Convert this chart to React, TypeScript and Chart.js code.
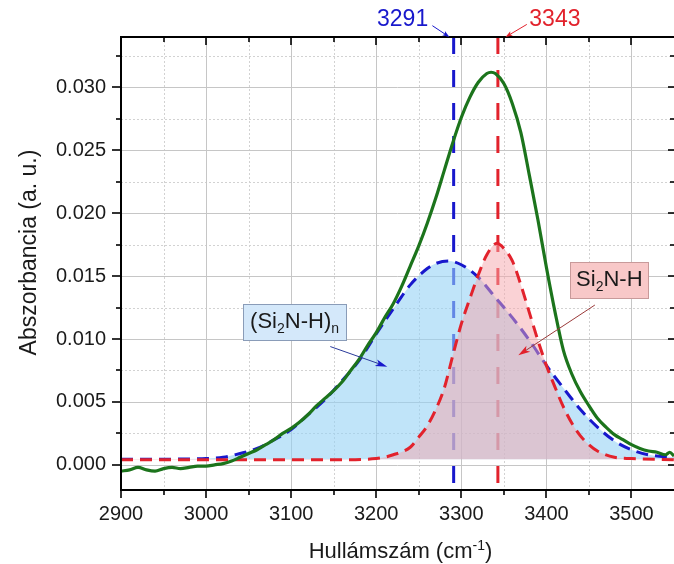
import React, { useEffect, useRef } from "react";
import { Chart, registerables } from "chart.js";

Chart.register(...registerables);

// ---------------- data ----------------
const X_MIN = 2900;
const X_MAX = 3550;
const Y_MIN = -0.002;
const Y_MAX = 0.034;

const X_TICKS = [2900, 3000, 3100, 3200, 3300, 3400, 3500];
const X_MINOR = [2950, 3050, 3150, 3250, 3350, 3450, 3550];
const Y_TICKS = [0, 0.005, 0.01, 0.015, 0.02, 0.025, 0.03];
const Y_MINOR = [0.0025, 0.0075, 0.0125, 0.0175, 0.0225, 0.0275, 0.0325];

const BASELINE = 0.00045;
const PEAK_A = 3291;
const PEAK_B = 3343;

// measured spectrum (green)
const GREEN_X = [2900, 2910, 2920, 2930, 2940, 2950, 2960, 2970, 2980, 2990, 3000, 3010, 3020, 3030, 3040, 3050, 3060, 3070, 3080, 3090, 3100, 3110, 3120, 3130, 3140, 3150, 3160, 3170, 3180, 3190, 3200, 3210, 3220, 3230, 3240, 3250, 3260, 3270, 3280, 3290, 3300, 3310, 3320, 3330, 3335, 3340, 3350, 3360, 3370, 3380, 3390, 3400, 3410, 3420, 3430, 3440, 3450, 3460, 3470, 3480, 3490, 3500, 3510, 3520, 3530, 3540, 3545, 3550];
const GREEN_Y = [-0.0005, -0.0004, -0.0002, -0.0004, -0.0005, -0.0003, -0.0002, -0.0003, -0.0002, -0.0001, -0.0001, 0.0, 0.0001, 0.0003, 0.0006, 0.0009, 0.0012, 0.0016, 0.002, 0.0025, 0.0029, 0.0034, 0.004, 0.0047, 0.0053, 0.0059, 0.0066, 0.0075, 0.0084, 0.0095, 0.0105, 0.0117, 0.0128, 0.0142, 0.0158, 0.0174, 0.0192, 0.0212, 0.0234, 0.0256, 0.0276, 0.0292, 0.0304, 0.0311, 0.0312, 0.0311, 0.0303, 0.0287, 0.0264, 0.023, 0.0195, 0.0157, 0.0122, 0.0091, 0.0072, 0.0058, 0.0047, 0.0037, 0.003, 0.0024, 0.002, 0.0016, 0.0013, 0.0011, 0.001, 0.0008, 0.001, 0.0007];

// fitted band (Si2N-H)n (blue)
const BLUE_X = [2900, 2950, 2980, 3000, 3020, 3040, 3060, 3080, 3100, 3120, 3140, 3160, 3180, 3200, 3220, 3240, 3260, 3270, 3285, 3300, 3320, 3340, 3360, 3380, 3400, 3420, 3440, 3460, 3480, 3500, 3520, 3550];
const BLUE_Y = [0.00045, 0.00045, 0.00047, 0.0005, 0.0006, 0.0009, 0.0013, 0.002, 0.0028, 0.004, 0.0052, 0.0067, 0.0083, 0.0104, 0.0124, 0.0143, 0.0156, 0.016, 0.0162, 0.0159, 0.0149, 0.0133, 0.0117, 0.0099, 0.0079, 0.0061, 0.0044, 0.003, 0.0019, 0.0012, 0.0008, 0.0006];

// fitted band Si2N-H (red)
const RED_X = [2900, 3150, 3200, 3220, 3240, 3250, 3260, 3270, 3280, 3290, 3300, 3310, 3320, 3330, 3342, 3350, 3360, 3370, 3380, 3390, 3400, 3410, 3420, 3430, 3440, 3450, 3460, 3480, 3500, 3550];
const RED_Y = [0.0004, 0.0004, 0.0005, 0.0008, 0.0014, 0.0022, 0.0031, 0.0044, 0.0061, 0.0087, 0.0112, 0.0132, 0.0151, 0.0167, 0.0176, 0.0172, 0.0162, 0.0143, 0.0121, 0.0099, 0.0079, 0.0062, 0.0046, 0.0033, 0.0023, 0.0016, 0.0011, 0.0006, 0.0005, 0.0004];

// annotation anchors (data coordinates)
const LABEL_A_POS = [3231, 0.0354];
const LABEL_A_ARROW = [3266, 0.0349, 3286, 0.034];
const LABEL_B_POS = [3410, 0.0354];
const LABEL_B_ARROW = [3377, 0.035, 3352, 0.034];
const BOX_BLUE_POS = [3104, 0.01135];
const BOX_BLUE_ARROW = [3146, 0.0094, 3213, 0.0078];
const BOX_RED_POS = [3474, 0.0147];
const BOX_RED_ARROW = [3457, 0.0127, 3367, 0.0087];

const X_TITLE = "Hullámszám (cm";
const Y_TITLE = "Abszorbancia (a. u.)";

// ---------------- styling ----------------
const FONT = "'Liberation Sans', Arial, Helvetica, sans-serif";
const C_GREEN = "#1c741c";
const C_BLUE = "#1818cc";
const C_RED = "#e2222c";
const TEXT = "#1a1a1a";

const pts = (xs: number[], ys: number[]) => xs.map((x, i) => ({ x, y: ys[i] }));

type Part = { t: string; s?: "sub" | "sup" };

function partFont(size: number, s?: string) {
  const sz = s ? Math.round(size * 0.65) : size;
  return `${sz}px ${FONT}`;
}

function richWidth(ctx: CanvasRenderingContext2D, parts: Part[], size: number) {
  let w = 0;
  for (const p of parts) {
    ctx.font = partFont(size, p.s);
    w += ctx.measureText(p.t).width;
  }
  return w;
}

function drawRich(ctx: CanvasRenderingContext2D, parts: Part[], cx: number, baseline: number, size: number, color: string) {
  const w = richWidth(ctx, parts, size);
  let x = cx - w / 2;
  ctx.fillStyle = color;
  ctx.textAlign = "left";
  ctx.textBaseline = "alphabetic";
  for (const p of parts) {
    ctx.font = partFont(size, p.s);
    let y = baseline;
    if (p.s === "sub") y += size * 0.22;
    if (p.s === "sup") y -= size * 0.38;
    ctx.fillText(p.t, x, y);
    x += ctx.measureText(p.t).width;
  }
  return w;
}

function arrow(ctx: CanvasRenderingContext2D, x1: number, y1: number, x2: number, y2: number, lineColor: string, headColor: string, headLen: number, headW: number) {
  const ang = Math.atan2(y2 - y1, x2 - x1);
  ctx.save();
  ctx.strokeStyle = lineColor;
  ctx.lineWidth = 1;
  ctx.setLineDash([]);
  ctx.beginPath();
  ctx.moveTo(x1, y1);
  ctx.lineTo(x2 - Math.cos(ang) * headLen * 0.6, y2 - Math.sin(ang) * headLen * 0.6);
  ctx.stroke();
  ctx.fillStyle = headColor;
  ctx.beginPath();
  ctx.moveTo(x2, y2);
  ctx.lineTo(x2 - Math.cos(ang) * headLen + Math.sin(ang) * headW / 2, y2 - Math.sin(ang) * headLen - Math.cos(ang) * headW / 2);
  ctx.lineTo(x2 - Math.cos(ang) * headLen * 0.75, y2 - Math.sin(ang) * headLen * 0.75);
  ctx.lineTo(x2 - Math.cos(ang) * headLen - Math.sin(ang) * headW / 2, y2 - Math.sin(ang) * headLen + Math.cos(ang) * headW / 2);
  ctx.closePath();
  ctx.fill();
  ctx.restore();
}

const framePlugin = {
  id: "frame",
  beforeDatasetsDraw(chart: any) {
    const { ctx, chartArea: a } = chart;
    const xs = chart.scales.x;
    const ys = chart.scales.y;
    ctx.save();
    ctx.lineWidth = 1;
    // minor grid
    ctx.strokeStyle = "#d2d2d2";
    ctx.setLineDash([2, 2]);
    for (const v of X_MINOR) {
      const p = Math.round(xs.getPixelForValue(v)) + 0.5;
      if (p > a.right - 1) continue;
      ctx.beginPath(); ctx.moveTo(p, a.top); ctx.lineTo(p, a.bottom); ctx.stroke();
    }
    for (const v of Y_MINOR) {
      const p = Math.round(ys.getPixelForValue(v)) + 0.5;
      ctx.beginPath(); ctx.moveTo(a.left, p); ctx.lineTo(a.right, p); ctx.stroke();
    }
    // major grid
    ctx.setLineDash([]);
    ctx.strokeStyle = "#c6c6c6";
    for (const v of X_TICKS) {
      if (v === X_MIN) continue;
      const p = Math.round(xs.getPixelForValue(v)) + 0.5;
      ctx.beginPath(); ctx.moveTo(p, a.top); ctx.lineTo(p, a.bottom); ctx.stroke();
    }
    for (const v of Y_TICKS) {
      const p = Math.round(ys.getPixelForValue(v)) + 0.5;
      ctx.beginPath(); ctx.moveTo(a.left, p); ctx.lineTo(a.right, p); ctx.stroke();
    }
    ctx.restore();
  },
  afterDatasetsDraw(chart: any) {
    const { ctx, chartArea: a } = chart;
    const xs = chart.scales.x;
    const ys = chart.scales.y;
    const px = (v: number) => xs.getPixelForValue(v);
    const py = (v: number) => ys.getPixelForValue(v);
    ctx.save();
    // frame
    ctx.strokeStyle = "#000";
    ctx.lineWidth = 2;
    ctx.setLineDash([]);
    ctx.beginPath();
    ctx.moveTo(a.right + 1, a.top);
    ctx.lineTo(a.left, a.top);
    ctx.lineTo(a.left, a.bottom);
    ctx.lineTo(a.right + 1, a.bottom);
    ctx.stroke();
    // ticks
    ctx.lineWidth = 1.6;
    const tick = (x1: number, y1: number, x2: number, y2: number) => {
      ctx.beginPath(); ctx.moveTo(x1, y1); ctx.lineTo(x2, y2); ctx.stroke();
    };
    for (const v of X_TICKS) {
      const p = Math.round(px(v));
      tick(p, a.bottom, p, a.bottom + 8);
      tick(p, a.top, p, a.top + 8);
    }
    for (const v of X_MINOR) {
      const p = Math.round(px(v));
      if (p > a.right - 1) continue;
      tick(p, a.bottom, p, a.bottom + 5);
      tick(p, a.top, p, a.top + 5);
    }
    for (const v of Y_TICKS) {
      const p = Math.round(py(v));
      tick(a.left - 9, p, a.left, p);
      tick(a.right - 6, p, a.right, p);
    }
    for (const v of Y_MINOR) {
      const p = Math.round(py(v));
      tick(a.left - 5, p, a.left, p);
      tick(a.right - 4, p, a.right, p);
    }

    // top peak labels
    ctx.textAlign = "center";
    ctx.textBaseline = "middle";
    ctx.font = `23px ${FONT}`;
    ctx.fillStyle = C_BLUE;
    ctx.fillText(String(PEAK_A), px(LABEL_A_POS[0]), py(LABEL_A_POS[1]));
    ctx.fillStyle = C_RED;
    ctx.fillText(String(PEAK_B), px(LABEL_B_POS[0]), py(LABEL_B_POS[1]));
    arrow(ctx, px(LABEL_A_ARROW[0]), py(LABEL_A_ARROW[1]), px(LABEL_A_ARROW[2]), py(LABEL_A_ARROW[3]), C_BLUE, C_BLUE, 7, 5);
    arrow(ctx, px(LABEL_B_ARROW[0]), py(LABEL_B_ARROW[1]), px(LABEL_B_ARROW[2]), py(LABEL_B_ARROW[3]), C_RED, C_RED, 7, 5);

    // boxes
    const box = (parts: Part[], pos: number[], fill: string, stroke: string, pad: number) => {
      const w = richWidth(ctx, parts, 22) + pad * 2;
      const h = 36;
      const cx = px(pos[0]);
      const cy = py(pos[1]);
      ctx.fillStyle = fill;
      ctx.strokeStyle = stroke;
      ctx.lineWidth = 1;
      ctx.fillRect(Math.round(cx - w / 2) + 0.5, Math.round(cy - h / 2) + 0.5, Math.round(w), h);
      ctx.strokeRect(Math.round(cx - w / 2) + 0.5, Math.round(cy - h / 2) + 0.5, Math.round(w), h);
      drawRich(ctx, parts, cx, cy + 6, 22, TEXT);
    };
    arrow(ctx, px(BOX_BLUE_ARROW[0]), py(BOX_BLUE_ARROW[1]), px(BOX_BLUE_ARROW[2]), py(BOX_BLUE_ARROW[3]), "#2a3a9a", C_BLUE, 12, 7);
    arrow(ctx, px(BOX_RED_ARROW[0]), py(BOX_RED_ARROW[1]), px(BOX_RED_ARROW[2]), py(BOX_RED_ARROW[3]), "#9a3a3a", C_RED, 12, 7);
    box([{ t: "(Si" }, { t: "2", s: "sub" }, { t: "N-H)" }, { t: "n", s: "sub" }], BOX_BLUE_POS, "#d4e8fa", "#8a9cb8", 7);
    box([{ t: "Si" }, { t: "2", s: "sub" }, { t: "N-H" }], BOX_RED_POS, "#f8c8c8", "#c89a9a", 6);

    // axis titles
    const xMid = (a.left + a.right) / 2;
    drawRich(ctx, [{ t: X_TITLE }, { t: "-1", s: "sup" }, { t: ")" }], xMid + 3, 558, 22, TEXT);
    ctx.save();
    ctx.translate(36, (a.top + a.bottom) / 2 - 11);
    ctx.rotate(-Math.PI / 2);
    ctx.font = `23px ${FONT}`;
    ctx.fillStyle = TEXT;
    ctx.textAlign = "center";
    ctx.textBaseline = "alphabetic";
    ctx.fillText(Y_TITLE, 0, 0);
    ctx.restore();

    ctx.restore();
  },
};

export default function App() {
  const ref = useRef<HTMLCanvasElement>(null);
  useEffect(() => {
    document.body.style.margin = "0";
    const canvas = ref.current!;
    const tickFont = { family: FONT, size: 20 };
    const chart = new Chart(canvas, {
      type: "line",
      data: {
        datasets: [
          {
            data: [{ x: PEAK_A, y: Y_MAX }, { x: PEAK_A, y: Y_MIN }],
            borderColor: C_BLUE,
            borderWidth: 3,
            borderDash: [17, 16],
            tension: 0,
            fill: false,
            pointRadius: 0,
            order: 10,
          },
          {
            data: [{ x: PEAK_B, y: Y_MAX }, { x: PEAK_B, y: Y_MIN }],
            borderColor: C_RED,
            borderWidth: 3,
            borderDash: [17, 16],
            tension: 0,
            fill: false,
            pointRadius: 0,
            order: 9,
          },
          {
            data: pts(BLUE_X, BLUE_Y),
            borderColor: C_BLUE,
            backgroundColor: "rgba(150,210,245,0.6)",
            borderWidth: 3,
            borderDash: [12, 7],
            cubicInterpolationMode: "monotone",
            fill: { value: BASELINE },
            pointRadius: 0,
            order: 3,
          },
          {
            data: pts(RED_X, RED_Y),
            borderColor: C_RED,
            backgroundColor: "rgba(245,165,172,0.5)",
            borderWidth: 3,
            borderDash: [12, 7],
            cubicInterpolationMode: "monotone",
            fill: { value: BASELINE },
            pointRadius: 0,
            order: 2,
          },
          {
            data: pts(GREEN_X, GREEN_Y),
            borderColor: C_GREEN,
            borderWidth: 3.2,
            cubicInterpolationMode: "monotone",
            fill: false,
            pointRadius: 0,
            order: 1,
          },
        ],
      } as any,
      options: {
        responsive: false,
        animation: false,
        devicePixelRatio: 1,
        layout: { padding: { top: 37, right: 0, left: 0, bottom: 0 } },
        plugins: { legend: { display: false }, tooltip: { enabled: false } },
        scales: {
          x: {
            type: "linear",
            min: X_MIN,
            max: X_MAX,
            grid: { display: false, drawTicks: false },
            border: { display: false },
            afterBuildTicks: (s: any) => { s.ticks = X_TICKS.map((v) => ({ value: v })); },
            afterFit: (s: any) => { s.height = 74; },
            ticks: { font: tickFont, color: TEXT, padding: 12, maxRotation: 0, autoSkip: false, callback: (v: any) => String(v) },
          },
          y: {
            type: "linear",
            min: Y_MIN,
            max: Y_MAX,
            grid: { display: false, drawTicks: false },
            border: { display: false },
            afterBuildTicks: (s: any) => { s.ticks = Y_TICKS.map((v) => ({ value: v })); },
            afterFit: (s: any) => { s.width = 121; },
            ticks: { font: tickFont, color: TEXT, padding: 15, autoSkip: false, callback: (v: any) => Number(v).toFixed(3) },
          },
        },
      } as any,
      plugins: [framePlugin],
    });
    return () => chart.destroy();
  }, []);
  return (
    <div style={{ position: "absolute", left: 0, top: 0, width: 674, height: 564, background: "#fff" }}>
      <canvas ref={ref} width={674} height={564} style={{ display: "block", width: 674, height: 564 }} />
    </div>
  );
}
